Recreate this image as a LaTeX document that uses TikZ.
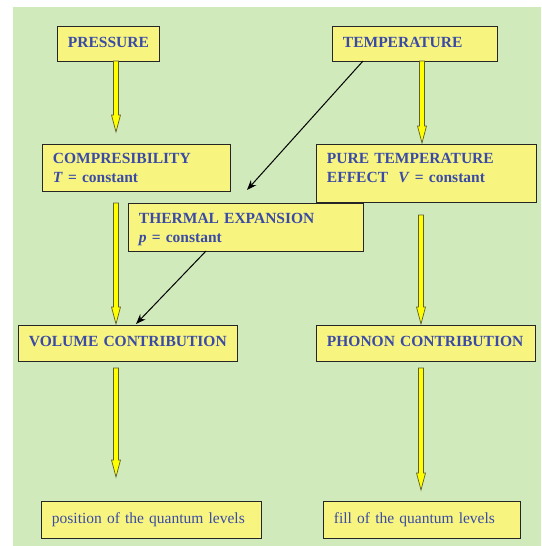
\documentclass[tikz,border=0pt]{standalone}
\usepackage{fontspec}
\setmainfont{Liberation Serif}
\usetikzlibrary{calc,arrows.meta}
\definecolor{bggreen}{HTML}{D0EABB}
\definecolor{boxyellow}{HTML}{F7F580}
\definecolor{textblue}{HTML}{3A4AA6}
\definecolor{arrowyellow}{HTML}{FFFF00}
\definecolor{arrowedge}{HTML}{5E5E2E}
\begin{document}
\begin{tikzpicture}[x=1pt,y=-1pt,
  box/.style={draw=black!85, line width=0.9pt, fill=boxyellow, anchor=north west,
    inner xsep=10.5pt, inner ysep=0pt, align=left, text=textblue,
    font=\fontsize{15.5}{19}\selectfont\bfseries},
  capsbox/.style={box, text depth=4pt},
  plainbox/.style={box, font=\fontsize{15.5}{19}\selectfont},
  yarrow/.style={fill=arrowyellow, draw=arrowedge, line width=0.7pt, line join=miter,
    to path={($(\tikztostart)+(-2.5,0)$) -- ($(\tikztotarget)+(-2.5,-17)$)
      -- ($(\tikztotarget)+(-4.5,-17)$) -- (\tikztotarget)
      -- ($(\tikztotarget)+(4.5,-17)$) -- ($(\tikztotarget)+(2.5,-17)$)
      -- ($(\tikztostart)+(2.5,0)$) -- cycle}},
  thinarrow/.style={draw=black, line width=1pt, -{Stealth[length=10pt,width=7.5pt]}}
]
\useasboundingbox (0,0) rectangle (541,546);
\fill[white] (0,0) rectangle (541,546);
\fill[bggreen] (13,7) rectangle (541,546);

\node[capsbox, text width=81pt, minimum height=35pt] (press) at (57,26) {PRESSURE};
\node[capsbox, text width=144pt, minimum height=35pt] (temp) at (332,26) {TEMPERATURE};
\node[box, text width=167pt, minimum height=47pt] (compr) at (42,144) {COMPRESIBILITY\\\textit{T} = constant};
\node[box, text width=199pt, minimum height=58pt, text depth=30pt] (pure) at (316,144) {PURE TEMPERATURE\\EFFECT\ \ \textit{V} = constant};
\node[box, text width=214pt, minimum height=48pt, text depth=18pt] (therm) at (128,203) {THERMAL EXPANSION\\\textit{p} = constant};
\node[capsbox, text width=198pt, minimum height=36pt] (vol) at (18,325) {VOLUME CONTRIBUTION};
\node[capsbox, text width=198pt, minimum height=36pt] (phon) at (316,325) {PHONON CONTRIBUTION};
\node[plainbox, text width=199pt, minimum height=37pt] (pos) at (41,501) {position of the quantum levels};
\node[plainbox, text width=176pt, minimum height=37pt] (fillq) at (323,501) {fill of the quantum levels};

% yellow block arrows
\coordinate (a1s) at (116,61);  \coordinate (a1e) at (116,132);
\coordinate (a2s) at (422,61);  \coordinate (a2e) at (422,143);
\coordinate (a3s) at (116,203); \coordinate (a3e) at (116,324);
\coordinate (a4s) at (421,215); \coordinate (a4e) at (421,324);
\coordinate (a5s) at (116,368); \coordinate (a5e) at (116,477);
\coordinate (a6s) at (421,368); \coordinate (a6e) at (421,490);
\path[yarrow] (a1s) to (a1e);
\path[yarrow] (a2s) to (a2e);
\path[yarrow] (a3s) to (a3e);
\path[yarrow] (a4s) to (a4e);
\path[yarrow] (a5s) to (a5e);
\path[yarrow] (a6s) to (a6e);

% thin black arrows
\coordinate (b1s) at (363,61);  \coordinate (b1e) at (247,190);
\coordinate (b2s) at (206,251); \coordinate (b2e) at (136,324);
\draw[thinarrow] (b1s) -- (b1e);
\draw[thinarrow] (b2s) -- (b2e);
\end{tikzpicture}
\end{document}
